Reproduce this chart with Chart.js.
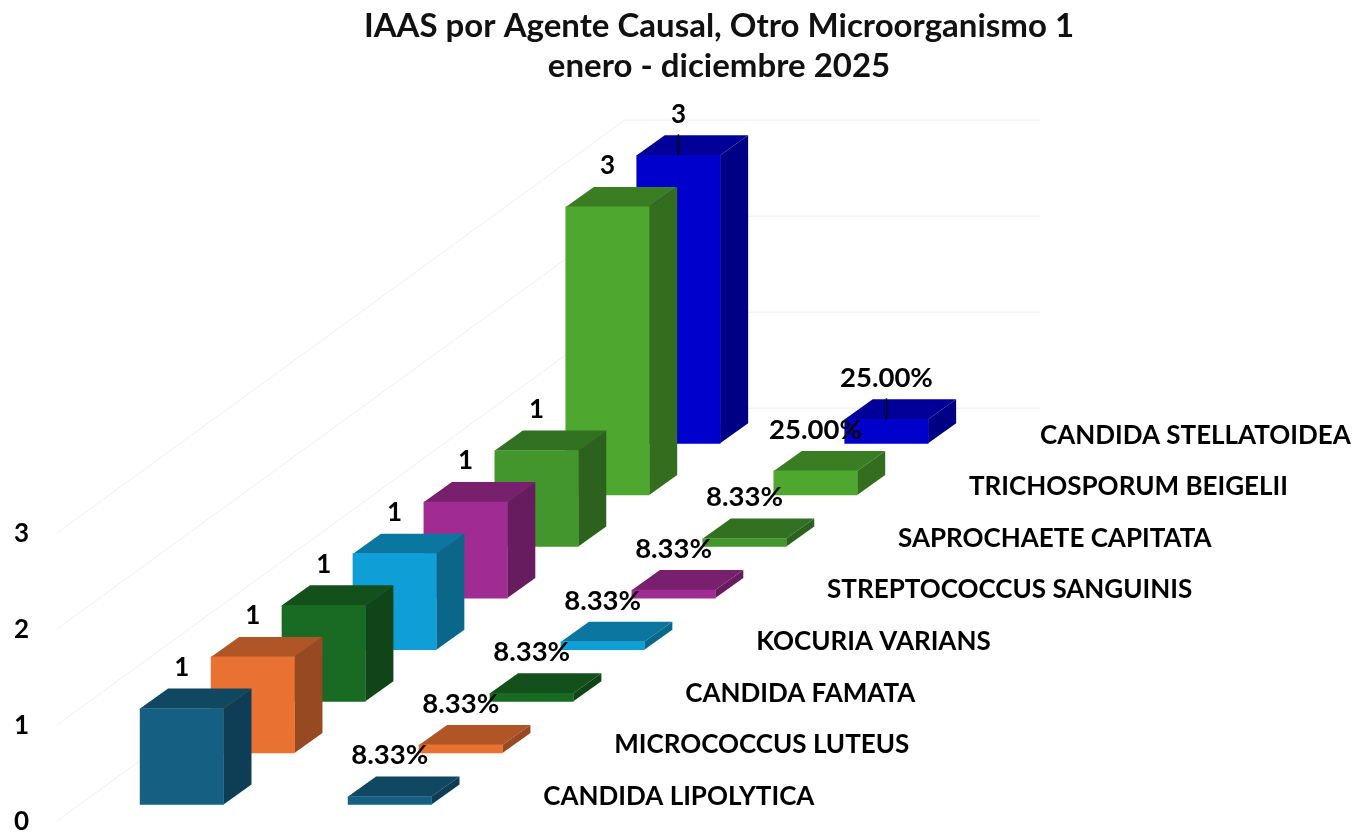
<!DOCTYPE html>
<html lang="es">
<head>
<meta charset="utf-8">
<title>IAAS por Agente Causal</title>
<style>html,body{margin:0;padding:0;background:#fff}canvas{display:block}</style>
<script src="https://cdn.jsdelivr.net/npm/chart.js@4"></script>
</head>
<body>
<canvas id="c" width="1354" height="832"></canvas>
<script>
const titleLines = ['IAAS por Agente Causal, Otro Microorganismo 1', 'enero - diciembre 2025'];
const columns = ['Casos', 'Porcentaje'];
const organisms = ['CANDIDA LIPOLYTICA','MICROCOCCUS LUTEUS','CANDIDA FAMATA','KOCURIA VARIANS','STREPTOCOCCUS SANGUINIS','SAPROCHAETE CAPITATA','TRICHOSPORUM BEIGELII','CANDIDA STELLATOIDEA'];
const casos = [1, 1, 1, 1, 1, 1, 3, 3];
const porcentajes = [0.0833, 0.0833, 0.0833, 0.0833, 0.0833, 0.0833, 0.25, 0.25];
const colors = ['#156082','#E97132','#196B24','#0F9ED5','#A02B93','#42962C','#4EA72E','#0000CC'];
const leaders = [false,false,false,false,false,false,false,true];
const yTicks = [0, 1, 2, 3];

const FONT = 'Lato, Carlito, sans-serif';
const DEPTH_STEP = {x: 70.95, y: -51.6};  // one series further back
const BAR_DEPTH = {x: 28, y: -20};        // depth of one box
const WALL_X = -20.8, WALL_Y = 16.5;      // front corner of the walls

function shade(hex, f) {
  const n = parseInt(hex.slice(1), 16);
  const c = s => Math.round(((n >> s) & 255) * f);
  return `rgb(${c(16)},${c(8)},${c(0)})`;
}

class Bar3DController extends Chart.BarController {
  updateElement(el, index, props, mode) {
    const d = this.index;
    if (props.x !== undefined) props.x += d * DEPTH_STEP.x;
    if (props.y !== undefined) props.y += d * DEPTH_STEP.y;
    if (props.base !== undefined) props.base += d * DEPTH_STEP.y;
    super.updateElement(el, index, props, mode);
  }
  draw() {
    const ctx = this.chart.ctx, color = this.getDataset().backgroundColor;
    for (const el of this._cachedMeta.data) {
      const L = el.x - el.width / 2, R = el.x + el.width / 2, T = el.y, B = el.base;
      const dx = BAR_DEPTH.x, dy = BAR_DEPTH.y;
      ctx.fillStyle = shade(color, 0.75);
      ctx.beginPath();
      ctx.moveTo(L, T); ctx.lineTo(L + dx, T + dy); ctx.lineTo(R + dx, T + dy); ctx.lineTo(R, T);
      ctx.closePath(); ctx.fill();
      ctx.fillStyle = shade(color, 0.65);
      ctx.beginPath();
      ctx.moveTo(R, T); ctx.lineTo(R + dx, T + dy); ctx.lineTo(R + dx, B + dy); ctx.lineTo(R, B);
      ctx.closePath(); ctx.fill();
      el.draw(ctx);
    }
  }
}
Bar3DController.id = 'bar3d';
Bar3DController.defaults = Chart.BarController.defaults;
Bar3DController.overrides = Chart.BarController.overrides;
Chart.register(Bar3DController);

const wallsPlugin = {
  id: 'walls',
  beforeDatasetsDraw(chart) {
    const {ctx, scales: {x, y}} = chart;
    const n = organisms.length;
    ctx.save();
    ctx.strokeStyle = '#efefef';
    ctx.lineWidth = 1;
    for (const t of yTicks) {
      const fx = x.left + WALL_X, fy = y.getPixelForValue(t) + WALL_Y;
      const bx = fx + n * DEPTH_STEP.x, by = fy + n * DEPTH_STEP.y;
      ctx.beginPath();
      ctx.moveTo(fx, fy); ctx.lineTo(bx, by); ctx.lineTo(bx + (x.right - x.left), by);
      ctx.stroke();
    }
    ctx.restore();
  }
};

const labelsPlugin = {
  id: 'barLabels',
  afterLayout(chart) {
    // title sits centred over the drawing rather than over the page
    const tb = chart.titleBlock;
    if (tb) { tb.left = 84; tb.right = chart.width; tb.width = tb.right - tb.left; }
  },
  afterDatasetsDraw(chart) {
    const ctx = chart.ctx;
    ctx.save();
    ctx.textAlign = 'center';
    ctx.textBaseline = 'middle';
    ctx.fillStyle = '#000';
    chart.data.datasets.forEach((ds, d) => {
      const els = chart.getDatasetMeta(d).data;
      els.forEach((el, i) => {
        const v = ds.data[i];
        if (ds.leader) {
          ctx.strokeStyle = '#000'; ctx.lineWidth = 1.5;
          ctx.beginPath(); ctx.moveTo(el.x, el.y); ctx.lineTo(el.x, el.y + BAR_DEPTH.y - 1); ctx.stroke();
        }
        ctx.font = i === 0 ? '700 26px ' + FONT : '700 27.5px ' + FONT;
        ctx.fillText(i === 0 ? String(v) : (v * 100).toFixed(2) + '%', el.x, el.y - 41);
      });
      const last = els[els.length - 1];
      ctx.textAlign = 'left';
      ctx.font = '700 26px ' + FONT;
      ctx.fillText(ds.label, last.x + 153.5, last.base - 8);
      ctx.textAlign = 'center';
    });
    ctx.restore();
  }
};

new Chart(document.getElementById('c'), {
  type: 'bar3d',
  data: {
    labels: columns,
    datasets: organisms.map((name, i) => ({
      label: name,
      data: [casos[i], porcentajes[i]],
      backgroundColor: colors[i],
      leader: leaders[i],
      grouped: false,
      barThickness: 83.4,
      clip: false
    }))
  },
  options: {
    responsive: false,
    animation: false,
    events: [],
    layout: {padding: {left: 14, right: 860.2, top: 0, bottom: 27.5}},
    plugins: {
      legend: {display: false},
      tooltip: {enabled: false},
      title: {
        display: true,
        text: titleLines,
        color: '#111',
        font: {family: FONT, size: 33, weight: '700', lineHeight: 1.212},
        padding: {top: 6, bottom: 430.5}
      }
    },
    scales: {
      x: {display: false},
      y: {
        min: 0, max: 3,
        afterFit(s) { s.width = 63.8; },
        border: {display: false},
        grid: {display: false},
        afterBuildTicks(s) { s.ticks = yTicks.map(v => ({value: v})); },
        ticks: {
          color: '#000',
          font: {family: FONT, size: 26, weight: '700'},
          crossAlign: 'far',
          padding: 0,
          labelOffset: 17.5
        }
      }
    }
  },
  plugins: [wallsPlugin, labelsPlugin]
});
</script>
</body>
</html>
